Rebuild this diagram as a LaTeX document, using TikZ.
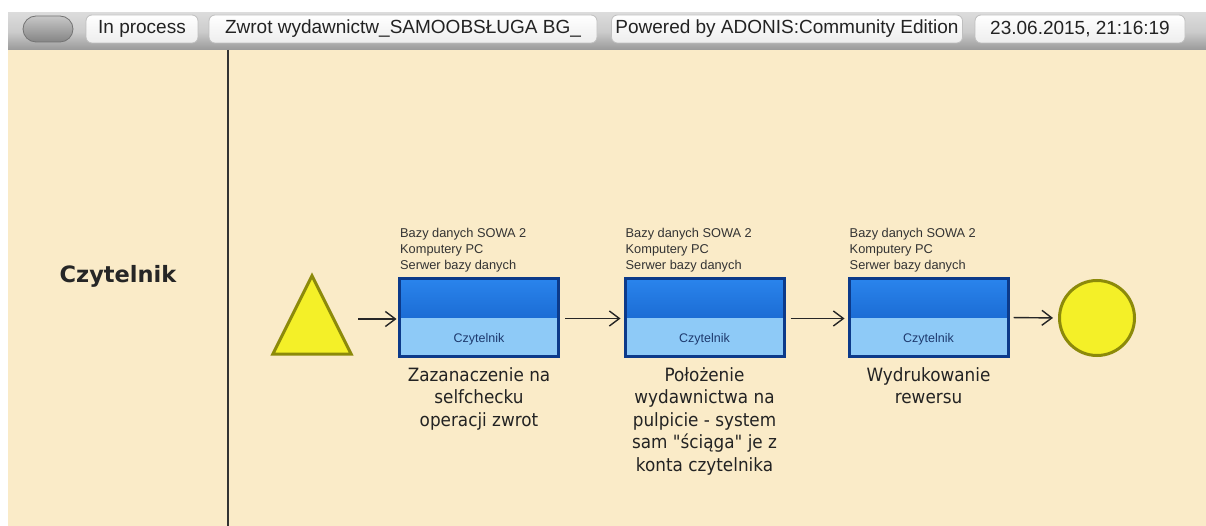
\documentclass[tikz,border=0pt]{standalone}
\usepackage{fontspec}
\setmainfont{Liberation Sans}
\newfontfamily\descfont{DejaVu Sans}[FakeStretch=0.92, Ligatures=TeXOff]
\newfontfamily\lanefont{DejaVu Sans}[Ligatures=TeXOff]
\usetikzlibrary{arrows.meta,calc}

\definecolor{paper}{RGB}{250,235,200}
\definecolor{evtfill}{RGB}{244,240,40}
\definecolor{evtedge}{RGB}{140,138,10}
\definecolor{acttop}{RGB}{42,132,236}
\definecolor{actmid}{RGB}{14,86,190}
\definecolor{actlow}{RGB}{142,202,247}
\definecolor{actedge}{RGB}{12,58,138}
\definecolor{roletext}{RGB}{30,58,110}
\definecolor{inktext}{RGB}{35,35,35}

\begin{document}
\begin{tikzpicture}[x=1pt,y=-1pt,
  pill/.style={draw=black!25, line width=0.8pt, rounded corners=6pt,
    top color=white, bottom color=black!7, minimum height=28pt, inner sep=0pt,
    font=\fontsize{19}{22}\selectfont, text=inktext},
  toggle/.style={draw=black!55, line width=0.8pt, rounded corners=13pt,
    top color=black!22, bottom color=black!48, minimum width=50pt, minimum height=26pt},
  activity/.style={draw=actedge, line width=3pt, fill=actlow,
    minimum width=159pt, minimum height=78pt, inner sep=0pt,
    path picture={\shade[top color=acttop, bottom color=actmid]
      (path picture bounding box.north west) rectangle (path picture bounding box.east);}},
  role/.style={font=\fontsize{12.5}{14}\selectfont, text=roletext, anchor=base},
  resources/.style={font=\fontsize{12.8}{16}\selectfont, text=black!80, align=left,
    anchor=south west, inner sep=0pt},
  caption/.style={font=\descfont\fontsize{18.3}{22.5}\selectfont, text=inktext,
    align=center, anchor=north, inner sep=0pt},
  eventshape/.style={draw=evtedge, fill=evtfill, line width=3pt},
  flow/.style={draw=black!85, line width=1.4pt, -{Straight Barb[length=10pt,width=15pt,line width=1.4pt]}},
  laneline/.style={draw=black!80, line width=1.6pt}
]
\useasboundingbox (0,0) rectangle (1206,526);
\fill[white] (0,0) rectangle (1206,526);

% title bar
\shade[top color=black!14, bottom color=black!40, middle color=black!20] (8,13) rectangle (1206,50);
\node[toggle] (btn) at (48,29) {};
\node[pill, minimum width=112pt] (state) at (142,29) {In process};
\node[pill, minimum width=388pt] (title) at (403,29) {Zwrot wydawnictw\_SAMOOBSŁUGA BG\_};
\node[pill, minimum width=351pt] (brand) at (787,29) {Powered by ADONIS:Community Edition};
\node[pill, minimum width=210pt] (stamp) at (1080,29) {23.06.2015, 21:16:19};

% swimlane
\fill[paper] (8,50) rectangle (1206,526);
\coordinate (laneTop) at (228,50);
\coordinate (laneBot) at (228,526);
\draw[laneline] (laneTop) -- (laneBot);
\node[font=\lanefont\bfseries\fontsize{22.5}{26}\selectfont, text=black!85, anchor=base] (lane) at (118,283) {Czytelnik};

% start event
\node[minimum width=78pt, minimum height=78pt, inner sep=0pt] (start) at (312,315) {};
\path[eventshape] (start.north) -- (start.south east) -- (start.south west) -- cycle;

% activities
\node[activity] (a1) at (479,317.5) {};
\node[activity] (a2) at (704.5,317.5) {};
\node[activity] (a3) at (928.5,317.5) {};

\foreach \n in {a1,a2,a3}{
  \node[role] at ($(\n.center)+(0,24.5)$) {Czytelnik};
  \node[resources] at ($(\n.north west)+(2,-4.5)$) {Bazy danych SOWA 2\\Komputery PC\\Serwer bazy danych};
}

\node[caption] (c1) at ($(a1.south)+(0,8)$) {\rule{0pt}{15pt}Zazanaczenie na\\selfchecku\\operacji zwrot};
\node[caption] (c2) at ($(a2.south)+(0,8)$) {\rule{0pt}{15pt}Położenie\\wydawnictwa na\\pulpicie - system\\sam "ściąga" je z\\konta czytelnika};
\node[caption] (c3) at ($(a3.south)+(0,8)$) {\rule{0pt}{15pt}Wydrukowanie\\rewersu};

% end event
\node[circle, eventshape, minimum size=75pt, inner sep=0pt] (end) at (1097,318) {};

% sequence flows
\draw[flow, shorten <=7pt, shorten >=1.5pt] ([yshift=-1.5pt]start.east |- a1.west) -- ([yshift=-1.5pt]a1.west);
\draw[flow, shorten <=5pt, shorten >=3pt] ([yshift=-1pt]a1.east) -- ([yshift=-1pt]a2.west);
\draw[flow, shorten <=5pt, shorten >=3pt] ([yshift=-1pt]a2.east) -- ([yshift=-1pt]a3.west);
\draw[flow, shorten <=4pt, shorten >=5pt] (a3.east) -- (end.west);
\end{tikzpicture}
\end{document}
